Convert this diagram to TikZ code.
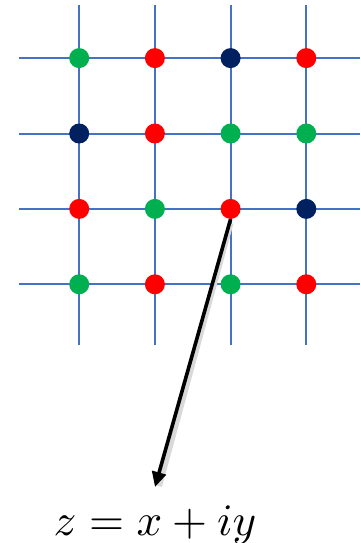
\documentclass[tikz,border=0pt]{standalone}
\usetikzlibrary{arrows.meta}
\definecolor{gridblue}{RGB}{68,114,196}
\definecolor{dgreen}{RGB}{0,176,80}
\definecolor{dred}{RGB}{255,0,0}
\definecolor{dnavy}{RGB}{0,32,96}
\tikzset{
  gridline/.style={gridblue, line width=2pt},
  dot/.style={circle, inner sep=0pt, minimum size=20pt},
}
\begin{document}
\begin{tikzpicture}[x=1pt, y=-1pt]
  \useasboundingbox (0,0) rectangle (360,543);
  % Gitter
  \foreach \i in {1,...,4} {
    \draw[gridline] (3.5+75.7*\i, 5) -- (3.5+75.7*\i, 345);
    \draw[gridline] (19, -17.3+75.4*\i) -- (360, -17.3+75.4*\i);
  }
  % Punkte
  \foreach \r/\clist in {1/{dgreen,dred,dnavy,dred},
                         2/{dnavy,dred,dgreen,dgreen},
                         3/{dred,dgreen,dred,dnavy},
                         4/{dgreen,dred,dgreen,dred}} {
    \foreach \c [count=\i] in \clist {
      \node[dot, fill=\c] (d-\r-\i) at (3.5+75.7*\i, -17.3+75.4*\r) {};
    }
  }
  % Pfeil zur Formel
  \node[anchor=base, scale=4.5] (zlab) at (155,535) {$z = x + iy$};
  \coordinate (tip) at (155,487);
  \draw[line width=6pt, black!15, shorten <=12pt, shorten >=4pt,
    transform canvas={shift={(3pt,-3pt)}}] (d-3-3.center) -- (tip);
  \draw[line width=3.6pt, -{Triangle[length=15pt, width=14pt]}]
    (d-3-3.south) -- (tip);
\end{tikzpicture}
\end{document}
